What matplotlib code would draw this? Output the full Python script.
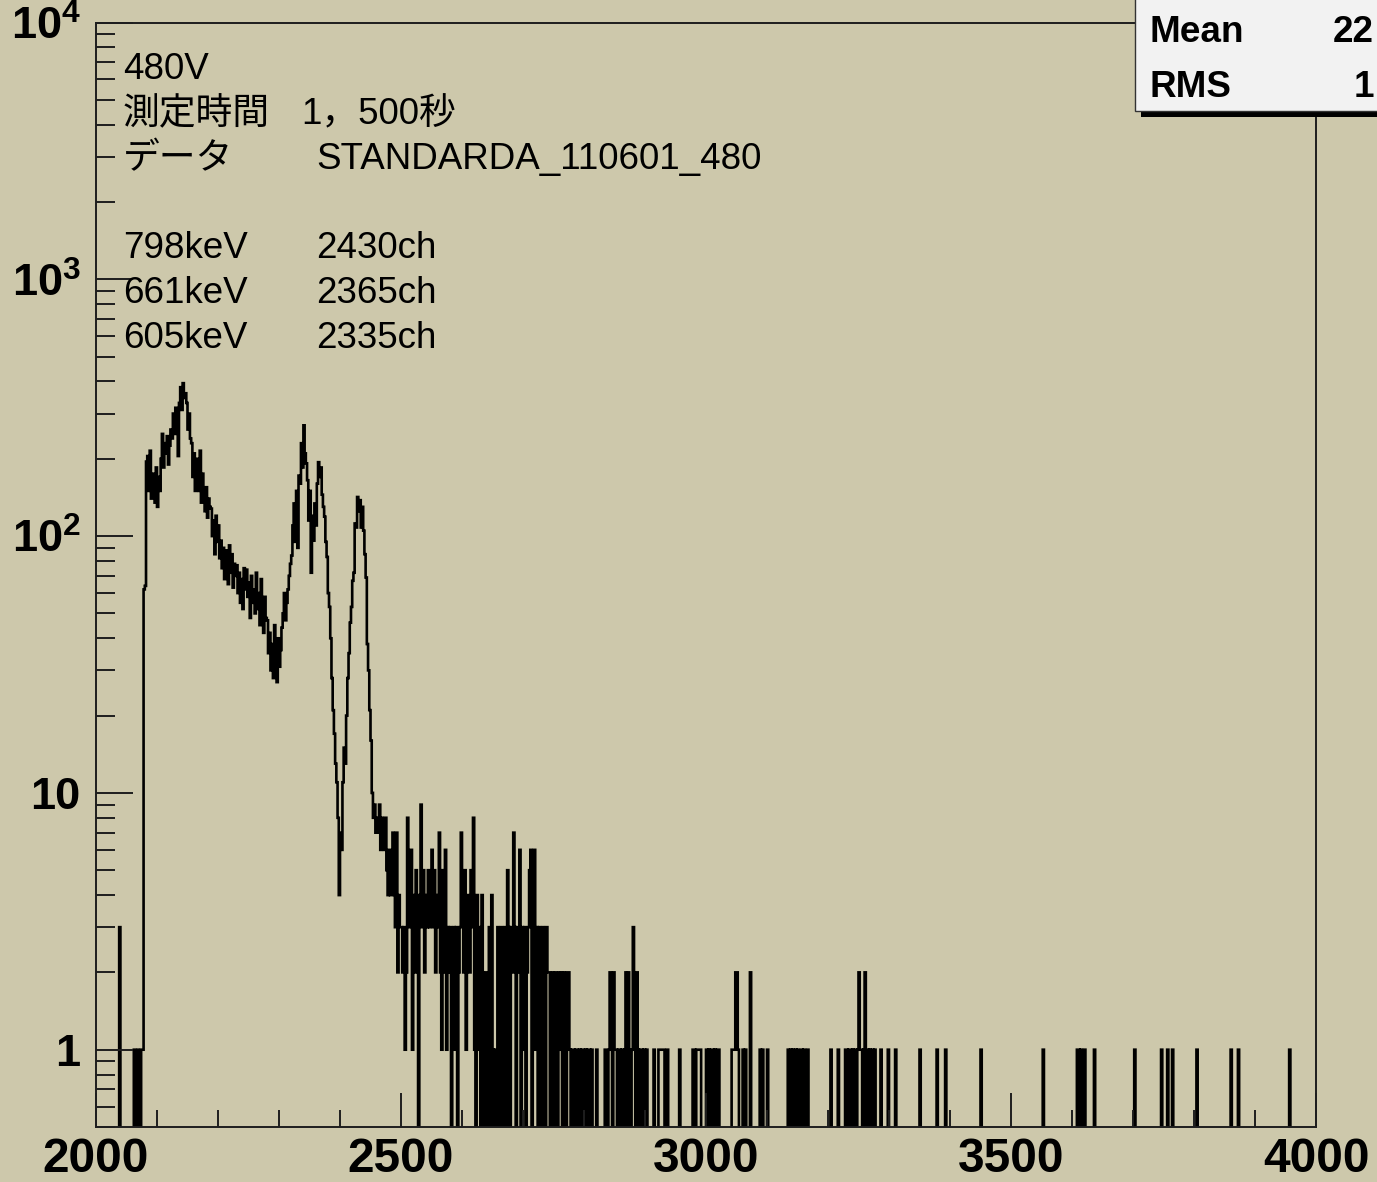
import numpy as np
import matplotlib
matplotlib.use("Agg")
import matplotlib.pyplot as plt
from matplotlib.patches import Rectangle
from matplotlib.ticker import (FixedLocator, FixedFormatter, LogLocator,
                               MultipleLocator, NullFormatter)

# ---------------------------------------------------------------- data
# Spectrum counts, 2-channel bins from 2000 to 4000 ch.
bin_width = 2
ch_min, ch_max = 2000, 4000

# isolated counts below threshold: {channel: count}
early_counts = {2038: 3}

# threshold rise, bins starting at 2060 ch
rise_start = 2060
rise_counts = [0, 1, 0, 0, 1, 0, 0, 1, 1, 62,
               64, 195, 205, 150, 215, 140, 175, 160, 135, 185,
               130, 170, 150, 200, 250, 185, 230, 210, 245, 190,
               225, 260, 240, 300, 250]

# Compton continuum, bins starting at 2130 ch
compton_start = 2130
compton_counts = [316, 280, 205, 330, 380, 310, 394, 345, 360, 330,
                  260, 300, 240, 230, 170, 210, 150, 190, 200, 150,
                  215, 135, 175, 150, 125, 155, 118, 140, 130, 128,
                  100, 115, 85, 120, 95, 110, 82, 96, 75, 90,
                  68, 88, 80, 65, 92, 72, 85, 63, 78, 70,
                  77, 60, 72, 55, 68, 52, 75, 62, 74, 58,
                  66, 48, 70, 55, 62, 50, 72, 52, 60, 45,
                  68, 50, 42, 58, 48, 47, 35, 42, 30, 38,
                  28, 45, 33, 27, 40, 31, 36, 44]

# photopeaks 605 / 661 / 798 keV, bins starting at 2306 ch
peak_start = 2306
peak_counts = [50, 60, 47, 55, 62, 70, 78, 84, 110, 134,
               95, 150, 90, 172, 160, 230, 185, 270, 210, 192,
               165, 115, 150, 72, 120, 96, 134, 110, 160, 194,
               170, 185, 145, 130, 119, 95, 83, 60, 53, 40,
               28, 21, 17, 13, 11, 8, 4, 7, 6, 11,
               15, 13, 20, 28, 35, 46, 53, 67, 72, 112,
               108, 142, 125, 138, 108, 130, 105, 85, 69, 38,
               30, 21, 16, 10, 8, 9, 7]

# high-energy tail, bins starting at 2460 ch
tail_start = 2460
tail_counts = [8, 7, 9, 6, 8, 7, 6, 8,
               5, 4, 6, 4, 5, 7,
               4, 3, 7, 2, 4, 3, 3,
               2, 3, 1, 2, 8,
               5, 3, 6, 1, 4, 2, 5, 3,
               0,
               4, 9, 3, 5, 2, 4, 3, 5, 3,
               4, 6, 3, 5, 2, 4, 3, 7,
               2, 1, 5, 2, 6, 1, 3, 2,
               3, 0, 2, 3, 1, 3, 0, 2, 3,
               7, 4, 2, 5, 1, 4, 3, 2,
               5, 3, 8, 1, 0, 4, 1, 3,
               0, 4, 1, 0, 2, 0, 1, 3,
               0, 4, 1, 0, 1, 0,
               3, 0, 2, 3, 0, 1, 3, 0,
               5, 3, 0, 3, 2, 7, 3, 0,
               3, 2, 6, 0, 3, 1, 3, 0, 2,
               3, 5, 6, 0, 3, 6, 1, 3,
               0, 3, 2, 0, 3, 1, 0, 3, 2]

# sparse region, bins starting at 2742 ch
sparse_start = 2742
sparse_counts = [2, 0, 1, 2, 0, 2, 1, 0, 2, 1, 2, 0, 2, 1, 0, 2, 2, 1, 0, 1,
                 1, 0, 1, 1, 0, 1, 0, 1, 1, 0, 1, 0, 1, 1, 0, 1, 0, 0,
                 0, 1, 0, 0, 0, 0, 0, 0, 1, 0, 0,
                 1, 2, 1, 0, 2, 1,
                 1, 0, 1, 1, 0, 1, 0, 1, 2, 0, 2, 1, 0, 1, 3, 1, 0, 2, 1, 0,
                 1, 1, 0, 1, 0, 1, 0,
                 0, 0, 0, 0, 1, 0, 0, 0, 1, 1, 1, 1, 1, 0, 0, 1, 0, 0, 0, 0,
                 0, 0, 0, 0, 0, 1, 0, 0, 0, 0, 0, 0, 0, 0, 0, 0, 1, 1, 0, 1,
                 1, 1, 1,
                 0, 0, 0, 0, 1, 0, 1, 0, 1, 1, 0, 1, 0, 1, 1]

# single counts above 3020 ch
tail_ones_ch = [3042, 3044, 3046, 3052, 3060, 3064, 3088, 3092, 3100,
                3134, 3138, 3142, 3146, 3150, 3156, 3160, 3166,
                3204, 3216, 3228, 3230, 3234, 3236, 3240, 3244, 3248,
                3252, 3254, 3258, 3264, 3268, 3272, 3276,
                3286, 3298, 3310, 3350, 3378, 3392, 3450, 3552,
                3608, 3610, 3614, 3620, 3636, 3702, 3746, 3756, 3764,
                3804, 3860, 3872, 3956]
tail_twos_ch = [3048, 3050, 3072, 3250, 3260]

# annotation and statistics texts
info_left = ["480V", "測定時間", "データ", "798keV", "661keV", "605keV"]
info_right = ["1，500秒", "STANDARDA_110601_480", "2430ch", "2365ch", "2335ch"]
stat_names = ["Mean", "RMS"]
stat_values = ["22", "1"]

y_tick_values = [1, 10, 100, 1000, 10000]
y_tick_labels = ["1", "10", r"$10^{2}$", r"$10^{3}$", r"$10^{4}$"]

# ---------------------------------------------------------------- histogram
edges = np.arange(ch_min, ch_max + bin_width, bin_width)
counts = np.zeros(len(edges) - 1)


def put(start, values):
    i0 = (start - ch_min) // bin_width
    counts[i0:i0 + len(values)] = values


for ch, c in early_counts.items():
    counts[(ch - ch_min) // bin_width] = c
put(rise_start, rise_counts)
put(compton_start, compton_counts)
put(peak_start, peak_counts)
put(tail_start, tail_counts)
put(sparse_start, sparse_counts)
for ch in tail_ones_ch:
    counts[(ch - ch_min) // bin_width] = 1
for ch in tail_twos_ch:
    counts[(ch - ch_min) // bin_width] = 2

# ---------------------------------------------------------------- figure
plt.rcParams["mathtext.fontset"] = "custom"
plt.rcParams["mathtext.rm"] = "Liberation Sans:bold"
plt.rcParams["mathtext.it"] = "Liberation Sans:bold"
plt.rcParams["mathtext.bf"] = "Liberation Sans:bold"
plt.rcParams["mathtext.default"] = "rm"
plt.rcParams["font.family"] = ["Liberation Sans", "Noto Sans CJK JP", "DejaVu Sans"]

W, H, DPI = 1377, 1182, 100
BG = "#CDC8AB"
INK = "#1e1e1e"

fig = plt.figure(figsize=(W / DPI, H / DPI), dpi=DPI)
fig.patch.set_facecolor(BG)


def fx(px):
    return px / W


def fy(py):
    return 1 - py / H


ax = fig.add_axes([fx(96), fy(1127), fx(1316) - fx(96), fy(22.5) - fy(1127)])
ax.set_facecolor(BG)

# empty bins sit below the log-axis floor so their edges run down to the axis
shown = np.where(counts > 0, counts, 1e-2)
ax.stairs(shown, edges, color="black", lw=1.9, baseline=None)

ax.set_yscale("log")
ax.set_xlim(ch_min, ch_max)
ax.set_ylim(0.5, 1e4)

ax.yaxis.set_major_locator(FixedLocator(y_tick_values))
ax.yaxis.set_major_formatter(FixedFormatter(y_tick_labels))
ax.yaxis.set_minor_locator(LogLocator(base=10, subs=np.arange(2, 10), numticks=30))
ax.yaxis.set_minor_formatter(NullFormatter())
ax.xaxis.set_major_locator(MultipleLocator(500))
ax.xaxis.set_minor_locator(MultipleLocator(100))

ax.tick_params(axis="both", which="both", direction="in", color=INK,
               top=False, right=False, width=1.4)
ax.tick_params(axis="y", which="major", length=26.6, pad=11, labelsize=32.5)
ax.tick_params(axis="y", which="minor", length=13.5)
ax.tick_params(axis="x", which="major", length=24.5, pad=7, labelsize=34.5)
ax.tick_params(axis="x", which="minor", length=12.2)
for lab in ax.get_xticklabels() + ax.get_yticklabels():
    lab.set_fontweight("bold")
    lab.set_family("Liberation Sans")

for sp in ax.spines.values():
    sp.set_color(INK)
    sp.set_linewidth(1.4)

# annotation block
left_base = [79, 124, 169, 258, 303, 348]
for txt, yb in zip(info_left, left_base):
    fig.text(fx(123), fy(yb), txt, fontsize=26.5, va="baseline", ha="left",
             color="black")
right_pos = [(301, 124), (316, 169), (316, 258), (316, 303), (316, 348)]
for txt, (xp, yb) in zip(info_right, right_pos):
    fig.text(fx(xp), fy(yb), txt, fontsize=26.5, va="baseline", ha="left",
             color="black")

# statistics box with drop shadow
shadow = Rectangle((fx(1141), fy(117)), fx(W + 20) - fx(1141), fy(-20) - fy(117),
                   transform=fig.transFigure, facecolor="black",
                   edgecolor="none", zorder=5)
box = Rectangle((fx(1135), fy(111)), fx(W + 20) - fx(1135), fy(-20) - fy(111),
                transform=fig.transFigure, facecolor="#F2F2F2",
                edgecolor="#333333", lw=1.0, zorder=6)
fig.add_artist(shadow)
fig.add_artist(box)
for name, val, yb in zip(stat_names, stat_values, [42, 97]):
    fig.text(fx(1150), fy(yb), name, fontsize=26.6, fontweight="bold",
             va="baseline", ha="left", family="Liberation Sans", zorder=7)
    fig.text(fx(1374), fy(yb), val, fontsize=26.6, fontweight="bold",
             va="baseline", ha="right", family="Liberation Sans", zorder=7)

fig.savefig("out.png", dpi=DPI, facecolor=BG)
